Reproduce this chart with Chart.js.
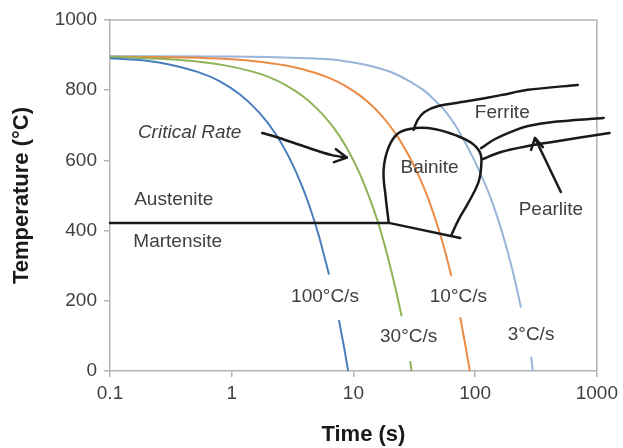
<!DOCTYPE html>
<html>
<head>
<meta charset="utf-8">
<script src="https://cdn.jsdelivr.net/npm/chart.js@4"></script>
<style>
  html, body { margin: 0; padding: 0; background: #fff; }
</style>
</head>
<body>
<canvas id="grafico-cct" width="623" height="448"></canvas>
<script>
// eixos
const xTicks = [0.1, 1, 10, 100, 1000];
const xTickLabels = ['0.1', '1', '10', '100', '1000'];
const yTickLabels = ['0', '200', '400', '600', '800', '1000'];

// curvas de resfriamento (null = espaco do rotulo)
const t100 = [0.1, 0.2, 0.3, 0.545, 0.793, 1.156, 1.685, 2.31, 2.97, 3.79, 4.57, 5.21, 6.3, null, 7.6, 8.4, 9.05];
const T100 = [891, 884, 874, 850, 826, 789, 736, 674, 608, 526, 448, 384, 275, null, 145, 65, 0];
const t30 = [0.1, 0.3, 0.54, 0.9, 1.4, 2.0, 2.8, 3.8, 4.9, 6.3, 7.6, 9.2, 11, 12.6, 14.3, 16.1, 18, 19.5, 22, 24.9, null, 29.3, 30];
const T30 = [895, 888, 881, 870, 855, 838, 814, 784, 751, 710, 672, 624, 570, 522, 471, 418, 360, 314, 240, 156, null, 28, 0];
const t10 = [0.1, 1, 1.9, 3, 4.9, 6.3, 8.5, 11.7, 14.3, 17.1, 20, 23.6, 27, 30, 34.2, 39.2, 43.6, 49.9, 56.3, 63.8, null, 75.4, 83, 90.5];
const T10 = [896, 888, 879, 868, 849, 835, 813, 781, 755, 727, 698, 662, 628, 599, 558, 510, 467, 406, 344, 270, null, 153, 74, 0];
const t3 = [0.1, 1, 3.6, 7, 11.1, 15, 20.6, 30, 39.1, 47, 57, 68.7, 80, 100, 128, 146, 165, 187, 210, 238, null, 288, 298];
const T3 = [897, 896, 892, 887, 876, 866, 851, 822, 796, 770, 740, 700, 660, 595, 511, 457, 400, 334, 265, 181, null, 40, 0];

// linhas de transformacao
const msTime = [0.1, 19.5, 75.5];
const msTemp = [422, 422, 379];
const bainTime = [19.5, 18.4, 17.7, 19.5, 23.5, 32.4, 47.2, 68.7, 92.9, 110, 112, 106, 87.8, 72.8, 63.8];
const bainTemp = [422, 496, 573, 638, 678, 692, 689, 672, 650, 621, 581, 536, 479, 430, 387];
const ferrTime = [31.2, 33.6, 38.4, 49.9, 87.8, 163, 272, 697];
const ferrTemp = [687, 715, 738, 755, 769, 786, 801, 815];
const perlTopTime = [112, 146, 217, 272, 419, 1138];
const perlTopTemp = [635, 661, 687, 698, 709, 721];
const perlLowTime = [116, 163, 272, 419, 1273];
const perlLowTemp = [604, 624, 641, 652, 678];

// setas
const critTime = [1.78, 2.46, 4.08, 6.66, 8.83];
const critTemp = [678, 664, 638, 615, 608];
const critHeadTime = [7.18, 8.83, 6.92];
const critHeadTemp = [632, 608, 595];
const pearTime = [506, 310];
const pearTemp = [510, 664];
const pearHeadTime = [288, 310, 360];
const pearHeadTemp = [630, 664, 638];

// rotulos
const labelText = ['Critical Rate', 'Austenite', 'Martensite', 'Bainite', 'Ferrite', 'Pearlite', '100°C/s', '10°C/s', '30°C/s', '3°C/s'];
const labelTime = [0.451, 0.334, 0.36, 42.2, 167, 419, 5.84, 72.8, 28.4, 288];
const labelTemp = [678, 487, 368, 578, 735, 459, 211, 211, 97, 103];

const fonte = '"Liberation Sans", Arial, Helvetica, sans-serif';
Chart.defaults.font.family = fonte;

function pontos(ts, temps) {
    return ts.map(function(t, i){ return { x: t, y: temps[i] }; });
}

function linhaPreta(ts, temps, tensao) {
    return {
        data: pontos(ts, temps),
        borderColor: '#1a1a1a',
        borderWidth: 2.5,
        tension: tensao,
        pointRadius: 0,
        fill: false,
        clip: false,
        capBezierPoints: false,
        borderCapStyle: 'round',
        borderJoinStyle: 'round'
    };
}

function curva(ts, temps, cor) {
    return {
        data: pontos(ts, temps),
        borderColor: cor,
        borderWidth: 2,
        cubicInterpolationMode: 'monotone',
        pointRadius: 0,
        fill: false
    };
}

const moldura = {
    id: 'moldura',
    beforeDatasetsDraw(chart) {
        const { ctx, chartArea: a } = chart;
        ctx.save();
        ctx.strokeStyle = '#b4b4b4';
        ctx.lineWidth = 1.5;
        ctx.beginPath();
        ctx.moveTo(a.left, a.top);
        ctx.lineTo(a.right, a.top);
        ctx.lineTo(a.right, a.bottom);
        ctx.stroke();
        ctx.restore();
    }
};

const rotulos = {
    id: 'rotulos',
    afterDatasetsDraw(chart) {
        const { ctx, scales: { x, y }, chartArea: a } = chart;
        ctx.save();
        ctx.fillStyle = '#404040';
        ctx.textAlign = 'center';
        ctx.textBaseline = 'middle';
        labelText.forEach(function(txt, i){
            ctx.font = (i === 0 ? 'italic ' : '') + '19px ' + fonte;
            ctx.fillText(txt, x.getPixelForValue(labelTime[i]), y.getPixelForValue(labelTemp[i]));
        });
        ctx.fillStyle = '#1a1a1a';
        ctx.font = 'bold 22px ' + fonte;
        ctx.fillText('Time (s)', (a.left + a.right) / 2 + 10, 435);
        ctx.restore();
    }
};

function constroiGrafico(context) {
    const eixoCor = '#b4b4b4';
    return new Chart(context, {
        type: 'line',
        data: {
            datasets: [
                linhaPreta(critHeadTime, critHeadTemp, 0),
                linhaPreta(critTime, critTemp, 0.3),
                linhaPreta(pearHeadTime, pearHeadTemp, 0),
                linhaPreta(pearTime, pearTemp, 0),
                linhaPreta(msTime, msTemp, 0),
                linhaPreta(bainTime, bainTemp, 0.4),
                linhaPreta(ferrTime, ferrTemp, 0.3),
                linhaPreta(perlTopTime, perlTopTemp, 0.3),
                linhaPreta(perlLowTime, perlLowTemp, 0.3),
                curva(t100, T100, '#4a7ebb'),
                curva(t30, T30, '#8fb356'),
                curva(t10, T10, '#ec8b45'),
                curva(t3, T3, '#98b4d8')
            ]
        },
        options: {
            responsive: false,
            animation: false,
            devicePixelRatio: 1,
            layout: { padding: { left: 0, top: 20, right: 24, bottom: 0 } },
            plugins: { legend: { display: false }, tooltip: { enabled: false } },
            scales: {
                x: {
                    type: 'logarithmic',
                    min: 0.1,
                    max: 1000,
                    afterBuildTicks: function(s){ s.ticks = xTicks.map(function(v){ return { value: v }; }); },
                    afterFit: function(s){ s.height = 77; },
                    ticks: {
                        autoSkip: false,
                        maxRotation: 0,
                        padding: 5,
                        color: '#404040',
                        font: { size: 19 },
                        callback: function(v, i){ return xTickLabels[i]; }
                    },
                    grid: { drawOnChartArea: false, color: eixoCor, tickLength: 6, lineWidth: 1.5 },
                    border: { color: eixoCor, width: 1.5 }
                },
                y: {
                    min: 0,
                    max: 1000,
                    afterFit: function(s){ s.width = 110; },
                    ticks: {
                        stepSize: 200,
                        padding: 7,
                        color: '#404040',
                        font: { size: 19 },
                        callback: function(v, i){ return yTickLabels[i]; }
                    },
                    grid: { drawOnChartArea: false, color: eixoCor, tickLength: 6, lineWidth: 1.5 },
                    border: { color: eixoCor, width: 1.5 },
                    title: {
                        display: true,
                        text: 'Temperature (°C)',
                        color: '#1a1a1a',
                        font: { size: 22, weight: 'bold' },
                        padding: { top: 9, bottom: 0 }
                    }
                }
            }
        },
        plugins: [moldura, rotulos]
    });
}

let context = document.getElementById('grafico-cct').getContext('2d');
constroiGrafico(context);
</script>
</body>
</html>
